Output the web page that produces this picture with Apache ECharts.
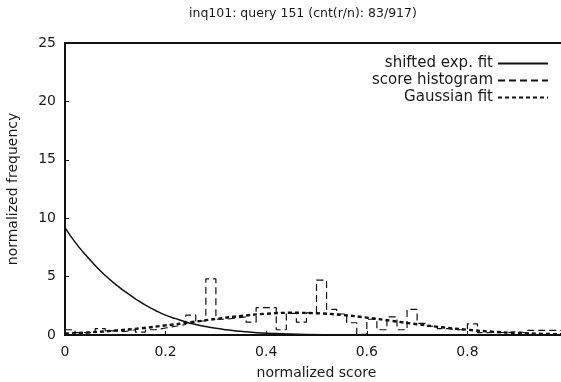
<!DOCTYPE html>
<html>
<head>
<meta charset="utf-8">
<script src="https://cdn.jsdelivr.net/npm/echarts@6/dist/echarts.min.js"></script>
<style>
  html, body { margin: 0; padding: 0; background: #fff; }
  #chart { width: 561px; height: 382px; }
</style>
</head>
<body>
<div id="chart"></div>
<script>
// Shifted exponential fit, sampled along the score axis
const expX = [0, 0.02, 0.04, 0.06, 0.08, 0.10, 0.12, 0.14, 0.16, 0.18, 0.20, 0.22, 0.24, 0.26, 0.28, 0.30, 0.32, 0.34, 0.36, 0.38, 0.40, 0.44, 0.48, 0.55, 0.65, 0.80, 1.00];
const expY = [9.2, 7.95, 6.9, 5.95, 5.1, 4.35, 3.7, 3.1, 2.55, 2.1, 1.7, 1.4, 1.12, 0.9, 0.72, 0.57, 0.45, 0.35, 0.27, 0.2, 0.15, 0.09, 0.05, 0.02, 0.008, 0.002, 0];

// Score histogram: left edge of each 0.02-wide bin and its normalized frequency
const binEdges = [0, 0.02, 0.04, 0.06, 0.08, 0.10, 0.12, 0.14, 0.16, 0.18,
                  0.20, 0.22, 0.24, 0.26, 0.28, 0.30, 0.32, 0.34, 0.36, 0.38,
                  0.40, 0.42, 0.44, 0.46, 0.48, 0.50, 0.52, 0.54, 0.56, 0.58,
                  0.60, 0.62, 0.64, 0.66, 0.68, 0.70, 0.72, 0.74, 0.76, 0.78,
                  0.80, 0.82, 0.84, 0.86, 0.88, 0.90, 0.92, 0.94, 0.96, 0.98];
const binHeights = [0.45, 0.2, 0.2, 0.55, 0.35, 0.3, 0.45, 0.25, 0.45, 0.6,
                    0.75, 0.9, 1.7, 1.2, 4.8, 1.35, 1.45, 1.55, 1.1, 2.35,
                    2.35, 0.45, 1.85, 1.1, 1.9, 4.7, 2.2, 1.8, 1.05, 0.05,
                    1.35, 0.45, 1.55, 0.45, 2.2, 1.0, 0.75, 0.55, 0.45, 0.45,
                    0.95, 0.2, 0.25, 0.2, 0.3, 0.15, 0.4, 0.4, 0.4, 0.35];
const histEnd = 1.0;

// Gaussian fit, sampled along the score axis
const gaussX = [0, 0.05, 0.10, 0.15, 0.20, 0.25, 0.30, 0.35, 0.40, 0.45, 0.50, 0.55, 0.60, 0.65, 0.70, 0.75, 0.80, 0.85, 0.90, 0.95, 1.00];
const gaussY = [0.13, 0.23, 0.38, 0.57, 0.82, 1.09, 1.38, 1.63, 1.82, 1.9, 1.86, 1.72, 1.49, 1.21, 0.92, 0.66, 0.45, 0.28, 0.17, 0.095, 0.05];

// Axis ticks
const xTicks = { min: 0, max: 1, step: 0.2 };
const yTicks = { min: 0, max: 25, step: 5 };

const titleText = 'inq101: query 151 (cnt(r/n): 83/917)';
const xName = 'normalized score';
const yName = 'normalized frequency';
const seriesNames = ['shifted exp. fit', 'score histogram', 'Gaussian fit'];

const expData = expX.map((x, i) => [x, expY[i]]);
const histData = binEdges.map((x, i) => [x, binHeights[i]]);
histData.push([histEnd, binHeights[binHeights.length - 1]]);
const gaussData = gaussX.map((x, i) => [x, gaussY[i]]);

const ink = '#111';
const font = 'DejaVu Sans';
const clear = 'rgba(0,0,0,0)';

const chart = echarts.init(document.getElementById('chart'), null, { renderer: 'canvas' });
chart.setOption({
  animation: false,
  backgroundColor: '#fff',
  textStyle: { fontFamily: font, color: '#1a1a1a' },
  title: {
    text: titleText,
    left: 189,
    top: 7,
    padding: 0,
    textStyle: { fontFamily: font, fontSize: 12.5, fontWeight: 'normal', color: '#1a1a1a' }
  },
  legend: {
    orient: 'vertical',
    align: 'right',
    right: 12,
    top: 56,
    padding: 0,
    itemWidth: 50,
    itemHeight: 14,
    itemGap: 2,
    // line samples only, no marker in the middle
    itemStyle: { color: clear, borderColor: clear, borderWidth: 0, opacity: 0 },
    textStyle: { fontFamily: font, fontSize: 15, color: '#1a1a1a' },
    data: seriesNames
  },
  grid: {
    left: 65,
    top: 43,
    width: 503,
    height: 292,
    show: true,
    borderColor: ink,
    borderWidth: 2,
    containLabel: false,
    outerBoundsMode: 'none'
  },
  xAxis: {
    type: 'value',
    min: xTicks.min,
    max: xTicks.max,
    interval: xTicks.step,
    name: xName,
    nameLocation: 'middle',
    nameGap: 31,
    nameTextStyle: { fontFamily: font, fontSize: 14, color: '#1a1a1a' },
    axisLine: { show: false },
    axisTick: { show: true, inside: true, length: 4, lineStyle: { color: ink, width: 1 } },
    axisLabel: {
      margin: 10,
      fontFamily: font,
      fontSize: 14,
      color: '#1a1a1a',
      formatter: v => (v >= xTicks.max ? '' : String(v))
    },
    splitLine: { show: false }
  },
  yAxis: {
    type: 'value',
    min: yTicks.min,
    max: yTicks.max,
    interval: yTicks.step,
    name: yName,
    nameLocation: 'middle',
    nameGap: 45,
    nameRotate: 90,
    nameTextStyle: { fontFamily: font, fontSize: 14, color: '#1a1a1a' },
    axisLine: { show: false },
    axisTick: { show: true, inside: true, length: 4, lineStyle: { color: ink, width: 1 } },
    axisLabel: { margin: 9, fontFamily: font, fontSize: 14, color: '#1a1a1a' },
    splitLine: { show: false }
  },
  series: [
    {
      name: seriesNames[0],
      type: 'line',
      data: expData,
      smooth: true,
      symbol: 'none',
      lineStyle: { color: ink, width: 1.5, type: 'solid' },
      itemStyle: { color: ink },
      z: 3
    },
    {
      name: seriesNames[1],
      type: 'line',
      data: histData,
      step: 'end',
      symbol: 'none',
      lineStyle: { color: ink, width: 1.2, type: [7, 4] },
      itemStyle: { color: ink },
      z: 2
    },
    {
      name: seriesNames[2],
      type: 'line',
      data: gaussData,
      smooth: true,
      symbol: 'none',
      lineStyle: { color: ink, width: 2.4, type: [4, 3] },
      itemStyle: { color: ink },
      z: 2
    }
  ]
});
</script>
</body>
</html>
